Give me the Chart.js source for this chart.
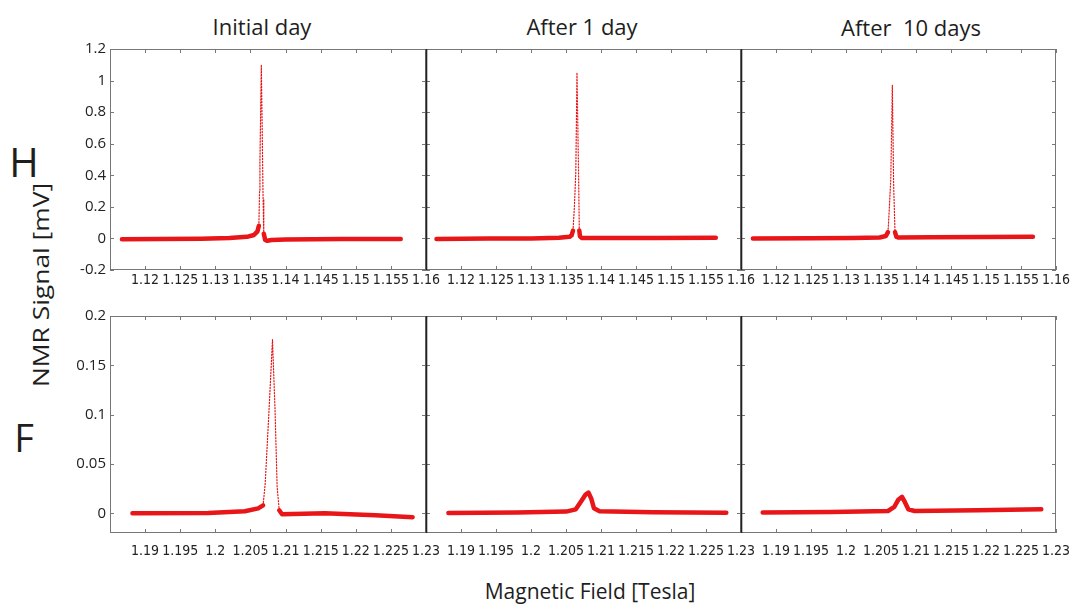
<!DOCTYPE html>
<html>
<head>
<meta charset="utf-8">
<script src="https://cdn.jsdelivr.net/npm/chart.js@4.4.0/dist/chart.umd.min.js"></script>
<style>
  body { margin: 0; background: #fff; }
  #wrap { position: relative; width: 1074px; height: 605px; overflow: hidden; font-family: 'Open Sans', sans-serif; color: #1e1e1e; }
  #wrap canvas { position: absolute; }
  .lbl { position: absolute; line-height: 1; white-space: pre; transform: translate(-50%, -50%); }
</style>
</head>
<body>
<div id="wrap">
  <div class="lbl" style="left:262px;top:26px;font-size:22px">Initial day</div>
  <div class="lbl" style="left:582px;top:26px;font-size:22px">After 1 day</div>
  <div class="lbl" style="left:911px;top:27px;font-size:22px">After  10 days</div>
  <div class="lbl" style="left:24px;top:162px;font-size:40px">H</div>
  <div class="lbl" style="left:24px;top:437px;font-size:38px">F</div>
  <div class="lbl" style="left:40px;top:285px;font-size:22px;transform:translate(-50%,-50%) rotate(-90deg) scaleX(1.2)">NMR Signal [mV]</div>
  <div class="lbl" style="left:590px;top:591px;font-size:21px">Magnetic Field [Tesla]</div>
</div>
<script>
// tick values and labels
const hFieldTicks = [1.12, 1.125, 1.13, 1.135, 1.14, 1.145, 1.15, 1.155, 1.16];
const hFieldLabels = ['1.12', '1.125', '1.13', '1.135', '1.14', '1.145', '1.15', '1.155', '1.16'];
const hSignalTicks = [-0.2, 0, 0.2, 0.4, 0.6, 0.8, 1, 1.2];
const hSignalLabels = ['-0.2', '0', '0.2', '0.4', '0.6', '0.8', '1', '1.2'];
const fFieldTicks = [1.19, 1.195, 1.2, 1.205, 1.21, 1.215, 1.22, 1.225, 1.23];
const fFieldLabels = ['1.19', '1.195', '1.2', '1.205', '1.21', '1.215', '1.22', '1.225', '1.23'];
const fSignalTicks = [0, 0.05, 0.1, 0.15, 0.2];
const fSignalLabels = ['0', '0.05', '0.1', '0.15', '0.2'];

// H, initial day
const hInitialField = [1.1167, 1.122, 1.128, 1.132, 1.1345, 1.1355, 1.136, 1.1362, 1.1363, 1.13635, 1.13655, 1.1367, 1.1368, 1.1369, 1.1371, 1.1374, 1.138, 1.14, 1.148, 1.1564];
const hInitialSignal = [-0.005, -0.004, -0.002, 0.003, 0.01, 0.022, 0.045, 0.08, 0.3, 0.48, 1.1, 0.6, 0.25, 0.03, -0.01, -0.015, -0.01, -0.007, -0.004, -0.003];
// H, after 1 day
const hDay1Field = [1.1165, 1.124, 1.13, 1.134, 1.1355, 1.1358, 1.136, 1.1362, 1.1364, 1.13657, 1.1368, 1.1369, 1.137, 1.1373, 1.14, 1.148, 1.1564];
const hDay1Signal = [-0.003, -0.001, 0.0, 0.004, 0.01, 0.02, 0.05, 0.2, 0.42, 1.05, 0.4, 0.05, 0.012, 0.002, 0.002, 0.003, 0.004];
// H, after 10 days
const hDay10Field = [1.1167, 1.125, 1.131, 1.1348, 1.1357, 1.136, 1.1362, 1.1364, 1.13662, 1.1368, 1.137, 1.1372, 1.1375, 1.142, 1.15, 1.1567];
const hDay10Signal = [0.0, 0.001, 0.002, 0.006, 0.015, 0.04, 0.2, 0.38, 0.97, 0.35, 0.04, 0.01, 0.006, 0.007, 0.009, 0.011];
// F, initial day
const fInitialField = [1.1882, 1.199, 1.2042, 1.2061, 1.2068, 1.2071, 1.2076, 1.20814, 1.2085, 1.2088, 1.2091, 1.2095, 1.2156, 1.2228, 1.2281];
const fInitialSignal = [0.0, 0.0003, 0.002, 0.005, 0.008, 0.03, 0.098, 0.176, 0.105, 0.027, 0.003, -0.001, 0.0, -0.002, -0.004];
// F, after 1 day
const fDay1Field = [1.1882, 1.198, 1.205, 1.2064, 1.2071, 1.2078, 1.2082, 1.2086, 1.209, 1.2098, 1.2174, 1.2279];
const fDay1Signal = [0.0003, 0.0008, 0.0017, 0.004, 0.0115, 0.019, 0.021, 0.015, 0.005, 0.002, 0.001, 0.0005];
// F, after 10 days
const fDay10Field = [1.1881, 1.198, 1.206, 1.2069, 1.2075, 1.208, 1.2084, 1.2089, 1.2098, 1.2188, 1.2279];
const fDay10Signal = [0.0007, 0.0012, 0.0023, 0.0064, 0.014, 0.0166, 0.0115, 0.004, 0.0023, 0.003, 0.004];

const RED = 'rgb(232, 22, 24)';
const PAD_L = 60, PAD_T = 15, PAD_R = 25, PAD_B = 35;

const cols = [{ left: 110, width: 316 }, { left: 426, width: 315 }, { left: 741, width: 315 }];
const rows = [
  { top: 49, height: 221, min: 1.115, max: 1.16, yMin: -0.2, yMax: 1.2,
    xTicks: hFieldTicks, xLabels: hFieldLabels, yTicks: hSignalTicks, yLabels: hSignalLabels, xPad: 2 },
  { top: 316, height: 217, min: 1.185, max: 1.23, yMin: -0.02, yMax: 0.2,
    xTicks: fFieldTicks, xLabels: fFieldLabels, yTicks: fSignalTicks, yLabels: fSignalLabels, xPad: 10 },
];
const panels = [
  { row: 0, col: 0, field: hInitialField, signal: hInitialSignal },
  { row: 0, col: 1, field: hDay1Field, signal: hDay1Signal },
  { row: 0, col: 2, field: hDay10Field, signal: hDay10Signal },
  { row: 1, col: 0, field: fInitialField, signal: fInitialSignal },
  { row: 1, col: 1, field: fDay1Field, signal: fDay1Signal },
  { row: 1, col: 2, field: fDay10Field, signal: fDay10Signal },
];

// box around the plot with short inward ticks on every side
const framePlugin = {
  id: 'frame',
  afterDraw(chart, args, opts) {
    const { ctx, chartArea: a, scales: { x, y } } = chart;
    ctx.save();
    ctx.strokeStyle = '#777';
    ctx.lineWidth = 1;
    ctx.strokeRect(a.left + 0.5, a.top + 0.5, a.width - 1, a.height - 1);
    ctx.beginPath();
    x.ticks.forEach((t) => {
      const px = Math.round(x.getPixelForValue(t.value)) + 0.5;
      ctx.moveTo(px, a.bottom); ctx.lineTo(px, a.bottom - 4);
      ctx.moveTo(px, a.top); ctx.lineTo(px, a.top + 4);
    });
    y.ticks.forEach((t) => {
      const py = Math.round(y.getPixelForValue(t.value)) + 0.5;
      ctx.moveTo(a.left, py); ctx.lineTo(a.left + 4, py);
      ctx.moveTo(a.right, py); ctx.lineTo(a.right - 4, py);
    });
    ctx.stroke();
    if (opts.dark) {
      ctx.strokeStyle = '#222';
      ctx.lineWidth = 1.6;
      ctx.beginPath();
      ctx.moveTo(a.left + 0.5, a.top);
      ctx.lineTo(a.left + 0.5, a.bottom);
      ctx.stroke();
    }
    ctx.restore();
  },
};

function steep(ctx) {
  const dx = Math.abs(ctx.p1.x - ctx.p0.x);
  const dy = Math.abs(ctx.p1.y - ctx.p0.y);
  return dy > 12 && dy > 4 * dx;
}

const wrap = document.getElementById('wrap');
panels.forEach((p) => {
  const r = rows[p.row];
  const c = cols[p.col];
  const cv = document.createElement('canvas');
  cv.width = c.width + PAD_L + PAD_R;
  cv.height = r.height + PAD_T + PAD_B;
  cv.style.left = (c.left - PAD_L) + 'px';
  cv.style.top = (r.top - PAD_T) + 'px';
  wrap.appendChild(cv);

  new Chart(cv, {
    type: 'line',
    data: {
      datasets: [{
        data: p.field.map((f, i) => ({ x: f, y: p.signal[i] })),
        borderColor: RED,
        borderWidth: 4.5,
        borderCapStyle: 'round',
        borderJoinStyle: 'round',
        pointRadius: 0,
        tension: 0,
        segment: {
          borderWidth: (ctx) => (steep(ctx) ? 1.2 : undefined),
          borderDash: (ctx) => (steep(ctx) ? [1.2, 1.8] : undefined),
        },
      }],
    },
    options: {
      responsive: false,
      animation: false,
      layout: { padding: { left: 0, top: PAD_T, right: PAD_R, bottom: 0 } },
      plugins: {
        legend: { display: false },
        tooltip: { enabled: false },
        frame: { dark: p.col > 0 },
      },
      scales: {
        x: {
          type: 'linear',
          min: r.min,
          max: r.max,
          grid: { display: false, drawTicks: false },
          border: { display: false },
          afterBuildTicks: (s) => { s.ticks = r.xTicks.map((v) => ({ value: v })); },
          afterFit: (s) => { s.height = PAD_B; },
          ticks: {
            callback: (v, i) => r.xLabels[i],
            padding: r.xPad,
            maxRotation: 0,
            autoSkip: false,
            color: '#222',
            font: { family: "'Liberation Sans Narrow', 'DejaVu Sans Condensed', Roboto, sans-serif", size: 14 },
          },
        },
        y: {
          type: 'linear',
          min: r.yMin,
          max: r.yMax,
          grid: { display: false, drawTicks: false },
          border: { display: false },
          afterBuildTicks: (s) => { s.ticks = r.yTicks.map((v) => ({ value: v })); },
          afterFit: (s) => { s.width = PAD_L; },
          ticks: {
            display: p.col === 0,
            callback: (v, i) => r.yLabels[i],
            padding: 4,
            autoSkip: false,
            color: '#222',
            font: { family: "'Open Sans', sans-serif", size: 15 },
          },
        },
      },
    },
    plugins: [framePlugin],
  });
});
</script>
</body>
</html>
